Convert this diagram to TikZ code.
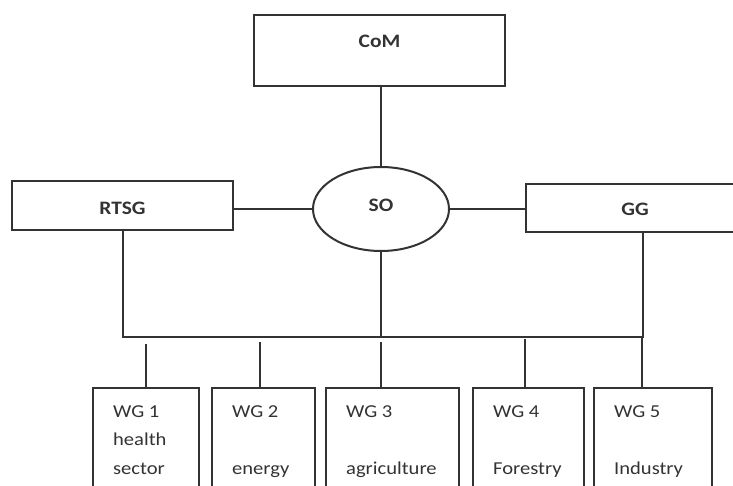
\documentclass[tikz,border=0pt]{standalone}
\usepackage{fontspec}
\setmainfont{Carlito}[FakeStretch=1.13]
\usetikzlibrary{shapes.geometric}

\definecolor{linegray}{gray}{0.2}
\definecolor{textgray}{gray}{0.2}

\tikzset{
  headbox/.style={draw=linegray, line width=2pt, inner sep=0pt, text=textgray,
    font=\bfseries\fontsize{19}{23}\selectfont},
  oval/.style={headbox, ellipse, minimum width=136pt, minimum height=84pt, text depth=8pt},
  wgbox/.style={draw=linegray, line width=2pt, anchor=north west, minimum height=140pt},
  wgtext/.style={anchor=north west, inner sep=0pt, align=left, text=textgray,
    font=\fontsize{18.2}{28.5}\selectfont},
  link/.style={draw=linegray, line width=2pt}
}

\begin{document}
\begin{tikzpicture}[x=1pt,y=-1pt]
  \clip (0,0) rectangle (733,486);

  \node[headbox, anchor=north, minimum width=251pt, text height=33pt, text depth=38pt] (com) at (379.5,14) {CoM};
  \node[oval] (so) at (381,209) {SO};
  \node[headbox, anchor=north west, minimum width=221pt, text height=34pt, text depth=15pt] (rtsg) at (11,180) {RTSG};
  \node[headbox, anchor=north west, minimum width=218pt, text height=32pt, text depth=16pt] (gg) at (525,183) {GG};

  \foreach \n/\l/\r/\txt in {1/92/198/{WG 1\\health\\sector},
                             2/211/314/{WG 2\\\mbox{}\\energy},
                             3/325/458/{WG 3\\\mbox{}\\agriculture},
                             4/472/583/{WG 4\\\mbox{}\\Forestry},
                             5/593/711/{WG 5\\\mbox{}\\Industry}} {
    \node[wgbox, minimum width={\r-\l}] (wg\n) at (\l,387) {};
    \node[wgtext] (wg\n text) at ([shift={(21,18)}]wg\n.north west) {\txt};
  }

  \coordinate (bus) at (381,337);
  \coordinate (ggfoot) at ([xshift=8]gg.south);

  \path[link]
    (so.north) -- (so.north |- com.south)
    (so.west) -- (so.west -| rtsg.east)
    (so.east) -- (so.east -| gg.west)
    (so.south) -- (bus)
    (rtsg.south) |- (bus) -| (ggfoot);

  \foreach \n/\x/\t in {1/146/344, 2/260/342, 3/381/342, 4/525/339, 5/642/337} {
    \coordinate (tap\n) at (\x,\t);
    \draw[link] (tap\n) -- (tap\n |- wg\n.north);
  }
\end{tikzpicture}
\end{document}
